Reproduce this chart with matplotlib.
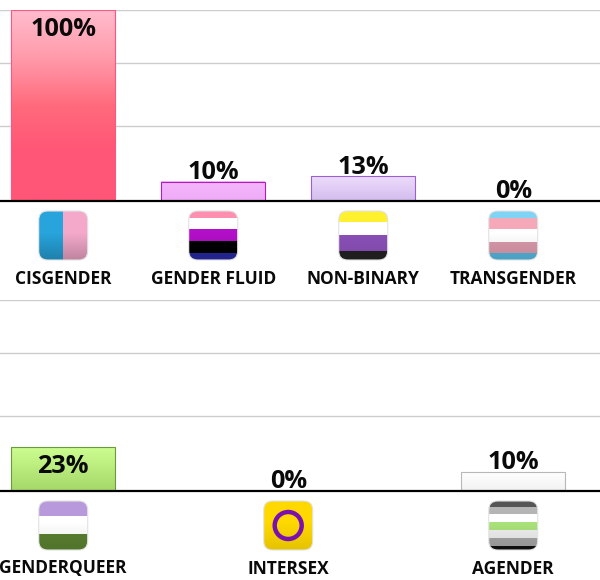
import numpy as np
import matplotlib
matplotlib.use('Agg')
import matplotlib.pyplot as plt
from matplotlib.colors import LinearSegmentedColormap, to_rgb
from matplotlib.patches import FancyBboxPatch, Circle

plt.rcParams['font.family'] = ['Open Sans', 'DejaVu Sans']

W, H = 600, 580
X0 = 63.2
BAR_W = 104

top_labels = ['CISGENDER', 'GENDER FLUID', 'NON-BINARY', 'TRANSGENDER']
top_values = [100, 10, 13, 0]
bottom_labels = ['GENDERQUEER', 'INTERSEX', 'AGENDER']
bottom_values = [23, 0, 10]
grid_values = [39.3, 72.3, 100]

# bar gradients, top to bottom
bar_styles = {
    'CISGENDER': (['#ffbccd', '#ff9aaa', '#ff6a7c', '#ff5577', '#ff5577'], '#ff5580'),
    'GENDER FLUID': (['#f4b6fa', '#efaaf8'], '#b01cc0'),
    'NON-BINARY': (['#eddcfb', '#d3bcee'], '#9a5fd0'),
    'TRANSGENDER': (['#ffffff', '#ffffff'], '#cccccc'),
    'GENDERQUEER': (['#ccfd90', '#a4d868'], '#6a9a3c'),
    'INTERSEX': (['#ffffff', '#ffffff'], '#cccccc'),
    'AGENDER': (['#ffffff', '#f2f2f2'], '#b8b8b8'),
}

# icon stripes as (colour, share of height)
icons = {
    'CISGENDER': None,
    'GENDER FLUID': [('#ff8fb0', .15), ('#ffffff', .22), ('#b20fc8', .24), ('#000000', .24), ('#26289a', .15)],
    'NON-BINARY': [('#fff030', .22), ('#ffffff', .28), ('#8a50b8', .32), ('#222222', .18)],
    'TRANSGENDER': [('#7fd4f5', .15), ('#f5a9b8', .22), ('#ffffff', .26), ('#d898aa', .22), ('#52b2d8', .15)],
    'GENDERQUEER': [('#b899dc', .31), ('#ffffff', .37), ('#5a8030', .32)],
    'INTERSEX': [],
    'AGENDER': [('#555555', .12), ('#b5b5b5', .15), ('#ffffff', .16), ('#a8e278', .16),
                ('#eeeeee', .16), ('#a5a5a5', .15), ('#111111', .10)],
}


def draw_panel(fig, overlay, labels, values, base_y, spacing):
    # axes covers whole width, 191px high for 100%
    ax = fig.add_axes([0, 1 - base_y / H, 1, 191 / H])
    ax.patch.set_alpha(0)
    for s in ax.spines.values():
        s.set_visible(False)
    ax.spines['bottom'].set_visible(True)
    ax.spines['bottom'].set_linewidth(1.6)
    ax.spines['bottom'].set_color('black')
    ax.spines['bottom'].set_zorder(10)
    ax.set_xticks([])
    ax.set_yticks(grid_values)
    ax.tick_params(left=False, labelleft=False)
    ax.grid(axis='y', color='#cccccc', lw=1)
    ax.set_axisbelow(True)

    x = np.arange(len(labels))
    bars = ax.bar(x, values, width=BAR_W / spacing, color='none', linewidth=0)
    for i, (b, name, v) in enumerate(zip(bars, labels, values)):
        colors, edge = bar_styles[name]
        if v > 0:
            cmap = LinearSegmentedColormap.from_list(name, colors)
            ax.imshow(np.linspace(0, 1, 128).reshape(-1, 1), cmap=cmap, aspect='auto',
                      extent=(b.get_x(), b.get_x() + b.get_width(), 0, v), zorder=2)
            ax.bar(i, v, width=BAR_W / spacing, facecolor='none', edgecolor=edge, linewidth=0.8, zorder=3)
        # big bars hold the label inside
        if v >= 20:
            ax.annotate(f'{v}%', (i, v), xytext=(0, -5), textcoords='offset points', ha='center', va='top',
                        fontsize=18.2, fontweight='bold', color='#0a0a0a', zorder=5)
        else:
            ax.annotate(f'{v}%', (i, v), xytext=(0, -2.5), textcoords='offset points', ha='center', va='bottom',
                        fontsize=18.2, fontweight='bold', color='#0a0a0a', zorder=5)
    ax.set_xlim(-X0 / spacing, (W - X0) / spacing)
    ax.set_ylim(0, 100)

    for i, name in enumerate(labels):
        cx = X0 + i * spacing
        draw_icon(overlay, name, cx, base_y + 10)
        overlay.text(cx, base_y + 77.5, name, ha='center', va='center',
                     fontsize=12.5, fontweight='bold', color='#0a0a0a')


def draw_icon(ax, name, cx, top, size=49):
    left = cx - size / 2
    rows = 98
    img = np.ones((rows, 2, 3))
    stripes = icons[name]
    if name == 'CISGENDER':
        img[:, 0] = to_rgb('#27a4dc')
        img[:, 1] = to_rgb('#f4a9cb')
    elif name == 'INTERSEX':
        img[:] = to_rgb('#ffd800')
    else:
        pos = 0
        for col, share in stripes:
            n = int(round(share * rows))
            img[pos:pos + n] = to_rgb(col)
            pos += n
        img[pos:] = to_rgb(stripes[-1][0])
    # the icons darken toward the bottom
    amount = .22 if name == 'CISGENDER' else .1
    shade = np.where(np.arange(rows) < rows * .45, 1.0, 1 - amount * (np.arange(rows) - rows * .45) / (rows * .55))
    img = img * shade[:, None, None]
    im = ax.imshow(img, extent=(left, left + size, top + size, top), aspect='auto', zorder=4,
                   interpolation='nearest')
    box = FancyBboxPatch((left + 7, top + 7), size - 14, size - 14, boxstyle='round,pad=7,rounding_size=9',
                         facecolor='none', edgecolor='#e2e2e2', linewidth=0.8, zorder=5)
    ax.add_patch(box)
    im.set_clip_path(box)
    if name == 'INTERSEX':
        ax.add_patch(Circle((cx, top + 24.5), 13.5, facecolor='none', edgecolor='#7a10b0', linewidth=3.2, zorder=6))
    ax.set_xlim(0, W)
    ax.set_ylim(H, 0)


fig = plt.figure(figsize=(W / 100, H / 100), dpi=100)
overlay = fig.add_axes([0, 0, 1, 1], zorder=5)
overlay.set_xlim(0, W)
overlay.set_ylim(H, 0)
overlay.axis('off')

draw_panel(fig, overlay, top_labels, top_values, 201, 150)
draw_panel(fig, overlay, bottom_labels, bottom_values, 491, 225)

fig.savefig('out.png', dpi=100)
